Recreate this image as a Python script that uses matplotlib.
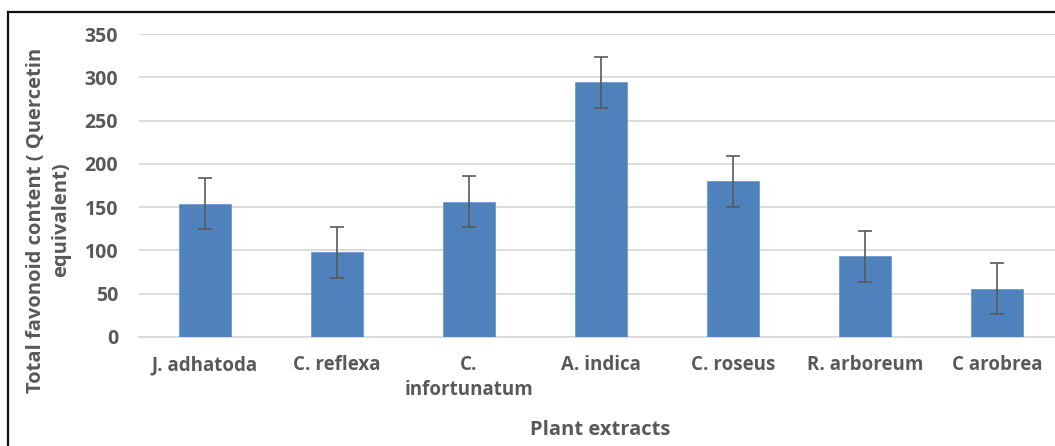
import numpy as np
import matplotlib
matplotlib.use("Agg")
import matplotlib.pyplot as plt
from matplotlib.lines import Line2D

# values
extracts = ["J. adhatoda", "C. reflexa", "C.\ninfortunatum", "A. indica",
            "C. roseus", "R. arboreum", "C arobrea"]
flavonoid = [154, 98, 156, 294, 180, 93, 56]
errors = [29.5, 29.5, 29.5, 29.5, 29.5, 29.5, 29.5]
y_ticks = [0, 50, 100, 150, 200, 250, 300, 350]

plt.rcParams["font.family"] = ["Open Sans", "DejaVu Sans"]
text_color = "#595959"

fig = plt.figure(figsize=(10.55, 4.46), dpi=100)
ax = fig.add_axes([139 / 1055, 1 - 337 / 446, (1063 - 139) / 1055, (337 - 34) / 446])

x = np.arange(len(extracts))
ax.bar(x, flavonoid, width=0.4, color="#4F81BD", edgecolor="#6f9ad0", linewidth=0.6,
       zorder=3)
ax.errorbar(x, flavonoid, yerr=errors, fmt="none", ecolor="#595959", elinewidth=1.2,
            capsize=5, capthick=1.2, zorder=4)

ax.set_xlim(-0.5, len(extracts) - 0.5)
ax.set_ylim(0, 350)
ax.set_yticks(y_ticks)
ax.set_xticks(x)
ax.set_xticklabels(extracts, fontsize=13.5, fontweight="bold", color=text_color,
                   linespacing=1.35, va="top")
ax.tick_params(axis="y", labelsize=14, labelcolor=text_color, length=0, pad=15)
ax.tick_params(axis="x", length=0, pad=13)
for lbl in ax.get_yticklabels():
    lbl.set_fontweight("bold")

ax.grid(axis="y", color="#d9d9d9", linewidth=1.3, zorder=0)
for side in ["top", "right", "left"]:
    ax.spines[side].set_visible(False)
ax.spines["bottom"].set_color("#d9d9d9")
ax.spines["bottom"].set_linewidth(1.3)

fig.text(600 / 1055, 1 - 430 / 446, "Plant extracts", ha="center", va="center",
         fontsize=14.5, fontweight="bold", color=text_color)
fig.text(49 / 1055, 1 - 220 / 446, "Total favonoid content ( Quercetin\nequivalent)",
         ha="center", va="center", rotation=90, fontsize=14.5, fontweight="bold",
         color=text_color, linespacing=1.35)

# outer frame, cut off at the right and bottom edges like the reference
fig.add_artist(Line2D([8 / 1055, 1.0], [1 - 12 / 446, 1 - 12 / 446], color="#111111",
                      linewidth=1.6, transform=fig.transFigure))
fig.add_artist(Line2D([8 / 1055, 8 / 1055], [1 - 12 / 446, 0.0], color="#111111",
                      linewidth=1.6, transform=fig.transFigure))

fig.savefig("out.png", dpi=100)
